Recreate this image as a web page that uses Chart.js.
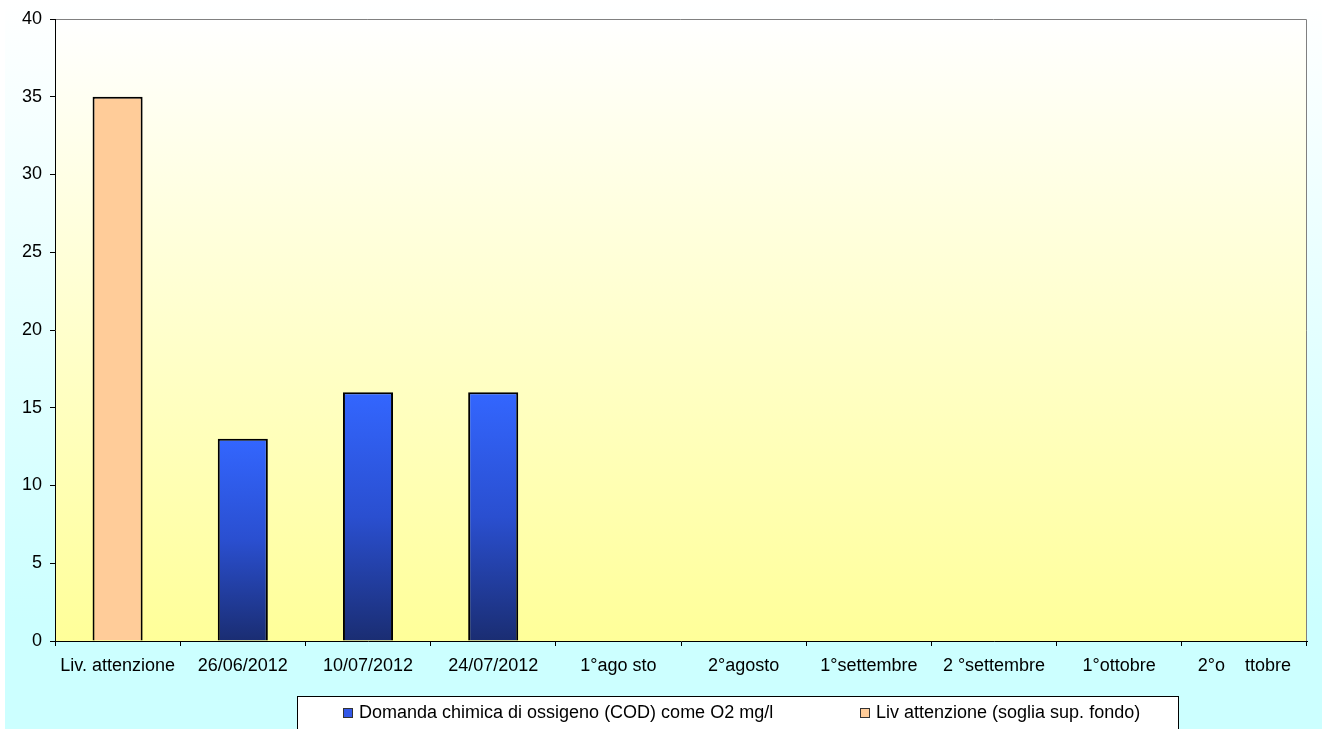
<!DOCTYPE html>
<html>
<head>
<meta charset="utf-8">
<script src="https://cdn.jsdelivr.net/npm/chart.js@4.4.1/dist/chart.umd.min.js"></script>
<style>
    body { margin: 0; background: #ffffff; }
    canvas { display: block; }
</style>
</head>
<body>
<canvas id="codChart" width="1327" height="729"></canvas>
<script>
const categories = ['Liv. attenzione', '26/06/2012', '10/07/2012', '24/07/2012', '1°ago sto', '2°agosto', '1°settembre', '2 °settembre', '1°ottobre', '2°o    ttobre'];
const codValues = [null, 13, 16, 16, null, null, null, null, null, null];
const thresholdValues = [35, null, null, null, null, null, null, null, null, null];
const seriesLabels = ['Domanda chimica di ossigeno (COD) come O2 mg/l', 'Liv attenzione (soglia sup. fondo)'];
const legendSwatches = ['#3358e8', '#ffcc99'];
const yTicks = [0, 5, 10, 15, 20, 25, 30, 35, 40];

const FONT = { family: 'Arial, "Liberation Sans", sans-serif', size: 18 };

function blueBar(context) {
    const chart = context.chart;
    if (!chart.chartArea || context.raw == null) return '#3366ff';
    const y = chart.scales.y;
    const top = y.getPixelForValue(context.raw);
    const bottom = y.getPixelForValue(0);
    const g = chart.ctx.createLinearGradient(0, top, 0, bottom);
    g.addColorStop(0, '#3366ff');
    g.addColorStop(0.5, '#2a4fd0');
    g.addColorStop(1, '#1a2d72');
    return g;
}

// page + plot backgrounds
const backgrounds = {
    id: 'backgrounds',
    beforeDraw(chart) {
        const c = chart.ctx;
        const a = chart.chartArea;
        c.save();
        c.fillStyle = '#ffffff';
        c.fillRect(0, 0, chart.width, chart.height);
        const outer = c.createLinearGradient(0, 0, 0, 620);
        outer.addColorStop(0, '#ffffff');
        outer.addColorStop(1, '#ccffff');
        c.fillStyle = outer;
        c.fillRect(5, 0, 1317, chart.height);
        const inner = c.createLinearGradient(0, a.top, 0, a.bottom);
        inner.addColorStop(0, '#ffffff');
        inner.addColorStop(1, '#ffff99');
        c.fillStyle = inner;
        c.fillRect(a.left, a.top, a.right - a.left, a.bottom - a.top);
        c.strokeStyle = '#808080';
        c.lineWidth = 1;
        c.beginPath();
        c.moveTo(a.left, a.top + 0.5);
        c.lineTo(a.right - 0.5, a.top + 0.5);
        c.lineTo(a.right - 0.5, a.bottom);
        c.stroke();
        c.restore();
    }
};

// boxed legend like the original
const boxLegend = {
    id: 'boxLegend',
    afterDraw(chart) {
        const c = chart.ctx;
        c.save();
        c.fillStyle = '#ffffff';
        c.fillRect(297, 696, 881, 40);
        c.strokeStyle = '#000000';
        c.lineWidth = 1;
        c.strokeRect(297.5, 696.5, 881, 40);
        c.font = FONT.size + 'px ' + FONT.family;
        c.textBaseline = 'middle';
        const xs = [343, 860];
        seriesLabels.forEach((label, i) => {
            c.fillStyle = legendSwatches[i];
            c.fillRect(xs[i], 708, 10, 10);
            c.strokeStyle = '#333333';
            c.strokeRect(xs[i] + 0.5, 708.5, 9, 9);
            c.fillStyle = '#000000';
            c.fillText(label, xs[i] + 16, 713);
        });
        c.restore();
    }
};

const ctx = document.getElementById('codChart').getContext('2d');
const chart = new Chart(ctx, {
    type: 'bar',
    data: {
        labels: categories,
        datasets: [{
            label: seriesLabels[0],
            data: codValues,
            backgroundColor: blueBar,
            borderColor: '#000000',
            borderWidth: 2,
            barPercentage: 0.4,
            categoryPercentage: 1.0
        }, {
            label: seriesLabels[1],
            data: thresholdValues,
            backgroundColor: '#ffcc99',
            borderColor: '#000000',
            borderWidth: 2,
            barPercentage: 0.4,
            categoryPercentage: 1.0
        }]
    },
    plugins: [backgrounds, boxLegend],
    options: {
        responsive: false,
        devicePixelRatio: 1,
        animation: false,
        layout: { padding: { left: 0, right: 20, top: 19, bottom: 0 } },
        plugins: {
            legend: { display: false },
            tooltip: { enabled: false }
        },
        scales: {
            x: {
                stacked: true,
                grid: { offset: true, drawOnChartArea: false, tickLength: 5, color: '#000000' },
                border: { color: '#000000', width: 1 },
                ticks: { font: FONT, color: '#000000', padding: 9, maxRotation: 0, autoSkip: false },
                afterFit: s => { s.height = 88; }
            },
            y: {
                stacked: true,
                min: 0,
                max: 40,
                afterBuildTicks: s => { s.ticks = yTicks.map(v => ({ value: v })); },
                grid: { drawOnChartArea: false, tickLength: 5, color: '#000000' },
                border: { color: '#000000', width: 1 },
                ticks: { font: FONT, color: '#000000', padding: 8 },
                afterFit: s => { s.width = 55; }
            }
        }
    }
});
</script>
</body>
</html>
